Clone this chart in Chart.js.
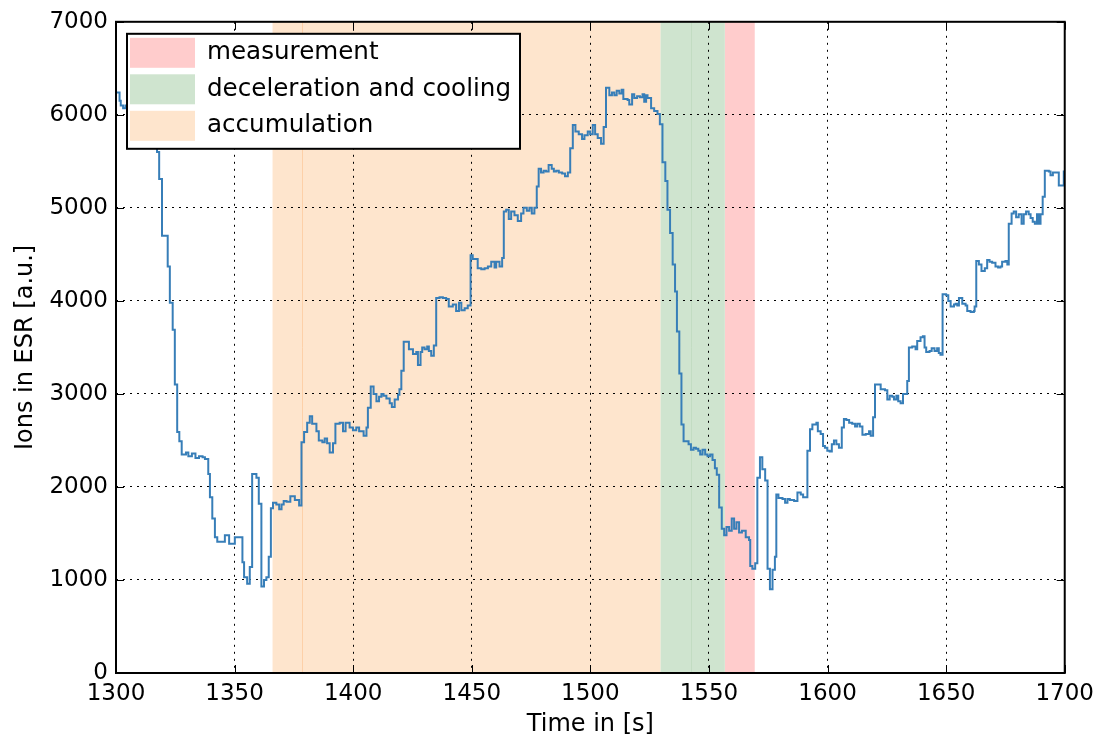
<!DOCTYPE html>
<html>
<head>
<meta charset="utf-8">
<title>Ions in ESR</title>
<script src="https://cdn.jsdelivr.net/npm/chart.js@4.4.1/dist/chart.umd.min.js"></script>
<style>
  html, body { margin: 0; padding: 0; background: #fff; }
  #wrap { width: 1101px; height: 740px; }
</style>
</head>
<body>
<div id="wrap"><canvas id="ionChart"></canvas></div>
<script>
// Stepped ion signal: each value holds from its time until the next one
const times = [
  1300.0, 1301.5, 1302.0, 1303.0, 1304.0, 1306.0, 1308.0, 1310.0, 1312.0, 1314.0,
  1316.0, 1317.3, 1318.2, 1319.4, 1321.8, 1322.7, 1323.9, 1324.8, 1325.8, 1326.7,
  1327.7, 1329.5, 1330.5, 1332.0, 1333.5, 1335.0, 1336.5, 1337.5, 1338.9, 1339.6,
  1340.6, 1341.7, 1342.7, 1345.9, 1347.7, 1350.1, 1353.3, 1354.0, 1355.3, 1356.4,
  1357.4, 1359.2, 1360.2, 1361.3, 1362.4, 1363.4, 1364.4, 1365.3, 1366.2, 1367.6,
  1368.8, 1369.8, 1370.7, 1371.9, 1373.5, 1375.4, 1377.2, 1378.2, 1379.3, 1380.6,
  1381.7, 1382.7, 1384.5, 1385.5, 1387.0, 1388.0, 1389.0, 1390.1, 1391.5, 1392.5,
  1394.3, 1395.7, 1396.8, 1398.5, 1399.9, 1401.3, 1402.5, 1404.4, 1405.6, 1406.2,
  1407.4, 1408.6, 1409.8, 1410.9, 1411.9, 1412.8, 1414.0, 1415.4, 1416.3, 1417.5,
  1418.9, 1419.5, 1420.3, 1421.3, 1423.5, 1425.2, 1426.6, 1427.3, 1428.4, 1429.1,
  1430.1, 1431.2, 1431.9, 1432.9, 1434.0, 1435.0, 1436.4, 1437.8, 1439.2, 1440.3,
  1442.0, 1443.4, 1444.6, 1445.6, 1447.0, 1448.3, 1449.5, 1450.4, 1452.5, 1454.0,
  1455.4, 1456.8, 1458.2, 1459.6, 1460.3, 1461.7, 1462.8, 1463.5, 1464.5, 1465.6,
  1466.6, 1468.0, 1469.4, 1470.8, 1471.8, 1473.2, 1474.3, 1475.3, 1476.4, 1477.4,
  1478.2, 1479.2, 1480.3, 1481.3, 1482.4, 1483.7, 1484.6, 1485.6, 1486.7, 1488.1,
  1489.3, 1490.5, 1491.5, 1492.6, 1493.7, 1495.1, 1496.5, 1497.5, 1498.9, 1499.9,
  1501.0, 1502.0, 1503.1, 1504.5, 1505.6, 1506.6, 1508.0, 1509.1, 1510.1, 1511.1,
  1512.2, 1513.2, 1513.9, 1515.7, 1516.4, 1517.6, 1518.5, 1519.7, 1520.9, 1522.0,
  1522.7, 1523.5, 1524.1, 1525.6, 1526.9, 1528.3, 1529.3, 1530.4, 1531.6, 1532.5,
  1533.6, 1534.7, 1535.7, 1536.5, 1537.5, 1538.4, 1539.3, 1541.4, 1542.4, 1543.5,
  1544.5, 1545.5, 1546.3, 1547.3, 1548.4, 1549.4, 1550.5, 1551.5, 1552.5, 1553.3,
  1554.3, 1555.4, 1556.4, 1557.4, 1558.5, 1559.6, 1560.6, 1561.6, 1562.7, 1563.9,
  1565.5, 1566.9, 1567.4, 1568.3, 1569.5, 1570.4, 1571.5, 1572.5, 1573.7, 1574.7,
  1575.7, 1576.8, 1577.8, 1578.4, 1579.3, 1581.0, 1582.1, 1583.1, 1584.1, 1585.9,
  1587.3, 1588.7, 1589.7, 1591.5, 1592.6, 1593.6, 1595.3, 1595.9, 1597.1, 1598.1,
  1598.9, 1599.9, 1600.9, 1601.8, 1602.7, 1603.7, 1604.8, 1606.0, 1606.9, 1607.9,
  1609.1, 1610.4, 1611.6, 1612.5, 1613.6, 1614.7, 1616.1, 1617.5, 1618.2, 1619.2,
  1620.0, 1622.4, 1624.2, 1625.2, 1626.2, 1627.3, 1628.0, 1629.0, 1629.8, 1630.8,
  1631.8, 1633.6, 1634.3, 1635.7, 1637.1, 1637.8, 1639.2, 1640.2, 1640.9, 1641.6,
  1643.0, 1643.9, 1645.1, 1646.2, 1646.9, 1647.6, 1648.5, 1650.0, 1650.9, 1651.9,
  1653.3, 1654.0, 1654.7, 1655.4, 1656.8, 1658.2, 1658.9, 1660.3, 1661.7, 1662.0,
  1662.7, 1663.8, 1664.9, 1666.3, 1667.3, 1668.3, 1669.4, 1670.8, 1671.9, 1672.9,
  1673.6, 1675.0, 1675.8, 1676.4, 1677.6, 1678.5, 1679.5, 1680.6, 1681.8, 1682.7,
  1683.7, 1684.8, 1685.6, 1686.5, 1687.4, 1688.3, 1689.1, 1689.8, 1690.7, 1691.6,
  1693.3, 1694.0, 1695.0, 1697.5, 1699.6, 1700.0
];
const ions = [
  6240, 6150, 6100, 6070, 6100, 6050, 5990, 5930, 5870, 5780,
  5680, 5600, 5310, 4700, 4370, 3980, 3690, 3100, 2590, 2490,
  2350, 2370, 2330, 2360, 2310, 2330, 2320, 2300, 2140, 1890,
  1660, 1460, 1410, 1480, 1390, 1460, 1190, 1030, 960, 1140,
  2140, 2100, 1820, 930, 1000, 1030, 1250, 1770, 1830, 1810,
  1760, 1810, 1850, 1840, 1900, 1860, 1800, 2480, 2590, 2690,
  2760, 2680, 2600, 2500, 2480, 2520, 2470, 2370, 2470, 2680,
  2690, 2600, 2690, 2640, 2610, 2640, 2600, 2550, 2640, 2850,
  3080, 3000, 2920, 2970, 3000, 2980, 2950, 2900, 2860, 2940,
  2990, 3050, 3250, 3560, 3480, 3430, 3450, 3310, 3450, 3500,
  3480, 3510, 3460, 3410, 3520, 4030, 4040, 4030, 4020, 3940,
  3960, 3890, 3980, 3900, 3920, 3950, 4490, 4450, 4350, 4340,
  4350, 4370, 4420, 4360, 4420, 4370, 4460, 4960, 4980, 4880,
  4960, 4920, 4860, 4940, 5000, 4970, 5000, 4940, 5000, 5230,
  5420, 5380, 5400, 5390, 5460, 5420, 5390, 5400, 5380, 5370,
  5340, 5380, 5640, 5890, 5820, 5790, 5740, 5780, 5820, 5790,
  5890, 5790, 5750, 5690, 5870, 6290, 6210, 6240, 6210, 6260,
  6230, 6270, 6170, 6160, 6110, 6220, 6180, 6200, 6190, 6220,
  6140, 6210, 6180, 6070, 6040, 6010, 5900, 5490, 5290, 4980,
  4730, 4390, 4100, 3670, 3220, 2670, 2490, 2460, 2400, 2420,
  2410, 2390, 2350, 2400, 2350, 2330, 2350, 2290, 2200, 2130,
  1780, 1550, 1480, 1570, 1530, 1660, 1550, 1620, 1510, 1530,
  1460, 1430, 1150, 1120, 1180, 2100, 2320, 2190, 2070, 1120,
  900, 1110, 1250, 1920, 1880, 1870, 1830, 1870, 1860, 1850,
  1940, 1920, 1890, 2390, 2620, 2670, 2690, 2600, 2570, 2440,
  2420, 2390, 2380, 2460, 2500, 2460, 2420, 2640, 2730, 2720,
  2690, 2680, 2650, 2680, 2650, 2560, 2570, 2600, 2550, 2750,
  3100, 3050, 3040, 2940, 2980, 2970, 2940, 2980, 2920, 2900,
  3000, 3140, 3500, 3510, 3480, 3570, 3610, 3620, 3500, 3450,
  3460, 3490, 3460, 3490, 3440, 3420, 4070, 4060, 4000, 3940,
  3960, 3970, 3950, 4030, 3970, 3950, 3890, 3880, 3890, 3940,
  4430, 4390, 4320, 4350, 4440, 4420, 4410, 4370, 4360, 4370,
  4420, 4430, 4390, 4830, 4940, 4960, 4900, 4930, 4830, 4930,
  4960, 4930, 4890, 4850, 4830, 4930, 4830, 4930, 5120, 5400,
  5390, 5350, 5380, 5240, 5390, 5390
];

// Cycle phases shaded behind the signal
const phaseLabels = ['measurement', 'deceleration and cooling', 'accumulation'];
const phaseStart = [1556.7, 1529.5, 1366.0];
const phaseEnd = [1569.3, 1556.7, 1529.5];
const phaseColors = ['#ffcccc', '#cfe4cf', '#fee5cd'];
// edges of overlapping phase spans
const phaseEdges = [1378.3, 1542.4];
const edgeColors = ['#fdd0a8', '#c2dcc2'];

const xTickValues = [1300, 1350, 1400, 1450, 1500, 1550, 1600, 1650, 1700];
const yTickValues = [0, 1000, 2000, 3000, 4000, 5000, 6000, 7000];

const FONT = "'DejaVu Sans', 'Liberation Sans', sans-serif";

const phasePlugin = {
  id: 'phases',
  beforeDraw(chart) {
    const { ctx, chartArea: a, scales: { x } } = chart;
    ctx.save();
    ctx.beginPath();
    ctx.rect(a.left, a.top, a.width, a.height);
    ctx.clip();
    phaseStart.forEach((s, i) => {
      const x0 = x.getPixelForValue(s);
      const x1 = x.getPixelForValue(phaseEnd[i]);
      ctx.fillStyle = phaseColors[i];
      ctx.fillRect(x0, a.top, x1 - x0, a.height);
    });
    phaseEdges.forEach((e, i) => {
      const px = Math.round(x.getPixelForValue(e)) + 0.5;
      ctx.strokeStyle = edgeColors[i];
      ctx.lineWidth = 1;
      ctx.beginPath();
      ctx.moveTo(px, a.top);
      ctx.lineTo(px, a.bottom);
      ctx.stroke();
    });
    ctx.restore();
  },
  afterDatasetsDraw(chart) {
    const { ctx, chartArea: a, scales: { x, y } } = chart;
    ctx.save();
    // inward tick marks on all four sides
    ctx.strokeStyle = '#000';
    ctx.lineWidth = 1;
    const len = 8;
    ctx.beginPath();
    xTickValues.forEach(v => {
      const px = Math.round(x.getPixelForValue(v)) + 0.5;
      ctx.moveTo(px, a.bottom); ctx.lineTo(px, a.bottom - len);
      ctx.moveTo(px, a.top); ctx.lineTo(px, a.top + len);
    });
    yTickValues.forEach(v => {
      const py = Math.round(y.getPixelForValue(v)) + 0.5;
      ctx.moveTo(a.left, py); ctx.lineTo(a.left + len, py);
      ctx.moveTo(a.right, py); ctx.lineTo(a.right - len, py);
    });
    ctx.stroke();
    // frame
    ctx.lineWidth = 2;
    ctx.strokeRect(a.left, a.top, a.width, a.height);
    ctx.restore();
  },
  afterDraw(chart) {
    const { ctx, chartArea: a } = chart;
    const left = a.left + 11, top = a.top + 12, w = 393, h = 115;
    ctx.save();
    ctx.fillStyle = '#fff';
    ctx.fillRect(left, top, w, h);
    ctx.strokeStyle = '#000';
    ctx.lineWidth = 2;
    ctx.strokeRect(left, top, w, h);
    ctx.font = '24.6px ' + FONT;
    ctx.textBaseline = 'middle';
    phaseLabels.forEach((label, i) => {
      const rowTop = top + 4 + i * 36.5;
      ctx.fillStyle = phaseColors[i];
      ctx.fillRect(left + 3, rowTop, 65, 30);
      ctx.fillStyle = '#000';
      ctx.fillText(label, left + 80, rowTop + 15);
    });
    ctx.restore();
  }
};

new Chart(document.getElementById('ionChart'), {
  type: 'line',
  data: {
    datasets: [{
      label: 'Ions in ESR',
      data: times.map((t, i) => ({ x: t, y: ions[i] })),
      borderColor: '#377eb8',
      borderWidth: 2,
      stepped: 'before',
      pointRadius: 0,
      fill: false
    }]
  },
  options: {
    responsive: true,
    maintainAspectRatio: false,
    animation: false,
    layout: { padding: { left: 0, right: 35, top: 19, bottom: 0 } },
    plugins: {
      legend: { display: false },
      tooltip: { enabled: false }
    },
    scales: {
      x: {
        type: 'linear',
        min: 1300,
        max: 1700,
        afterBuildTicks: s => { s.ticks = xTickValues.map(v => ({ value: v })); },
        afterFit: s => { s.height = 67; },
        grid: { color: '#000', lineWidth: 1, drawTicks: false },
        border: { display: false, dash: [2, 5] },
        ticks: {
          color: '#000',
          font: { family: FONT, size: 23 },
          padding: 7,
          maxRotation: 0,
          autoSkip: false,
          callback: v => String(v)
        },
        title: {
          display: true,
          text: 'Time in [s]',
          color: '#000',
          font: { family: FONT, size: 24 },
          padding: { top: 0, bottom: 1 }
        }
      },
      y: {
        min: 0,
        max: 7000,
        afterBuildTicks: s => { s.ticks = yTickValues.map(v => ({ value: v })); },
        afterFit: s => { s.width = 116; },
        grid: { color: '#000', lineWidth: 1, drawTicks: false },
        border: { display: false, dash: [2, 5] },
        ticks: {
          color: '#000',
          font: { family: FONT, size: 23 },
          padding: 8,
          callback: v => String(v)
        },
        title: {
          display: true,
          text: 'Ions in ESR [a.u.]',
          color: '#000',
          font: { family: FONT, size: 24 },
          padding: { top: 11, bottom: 0 }
        }
      }
    }
  },
  plugins: [phasePlugin]
});
</script>
</body>
</html>
